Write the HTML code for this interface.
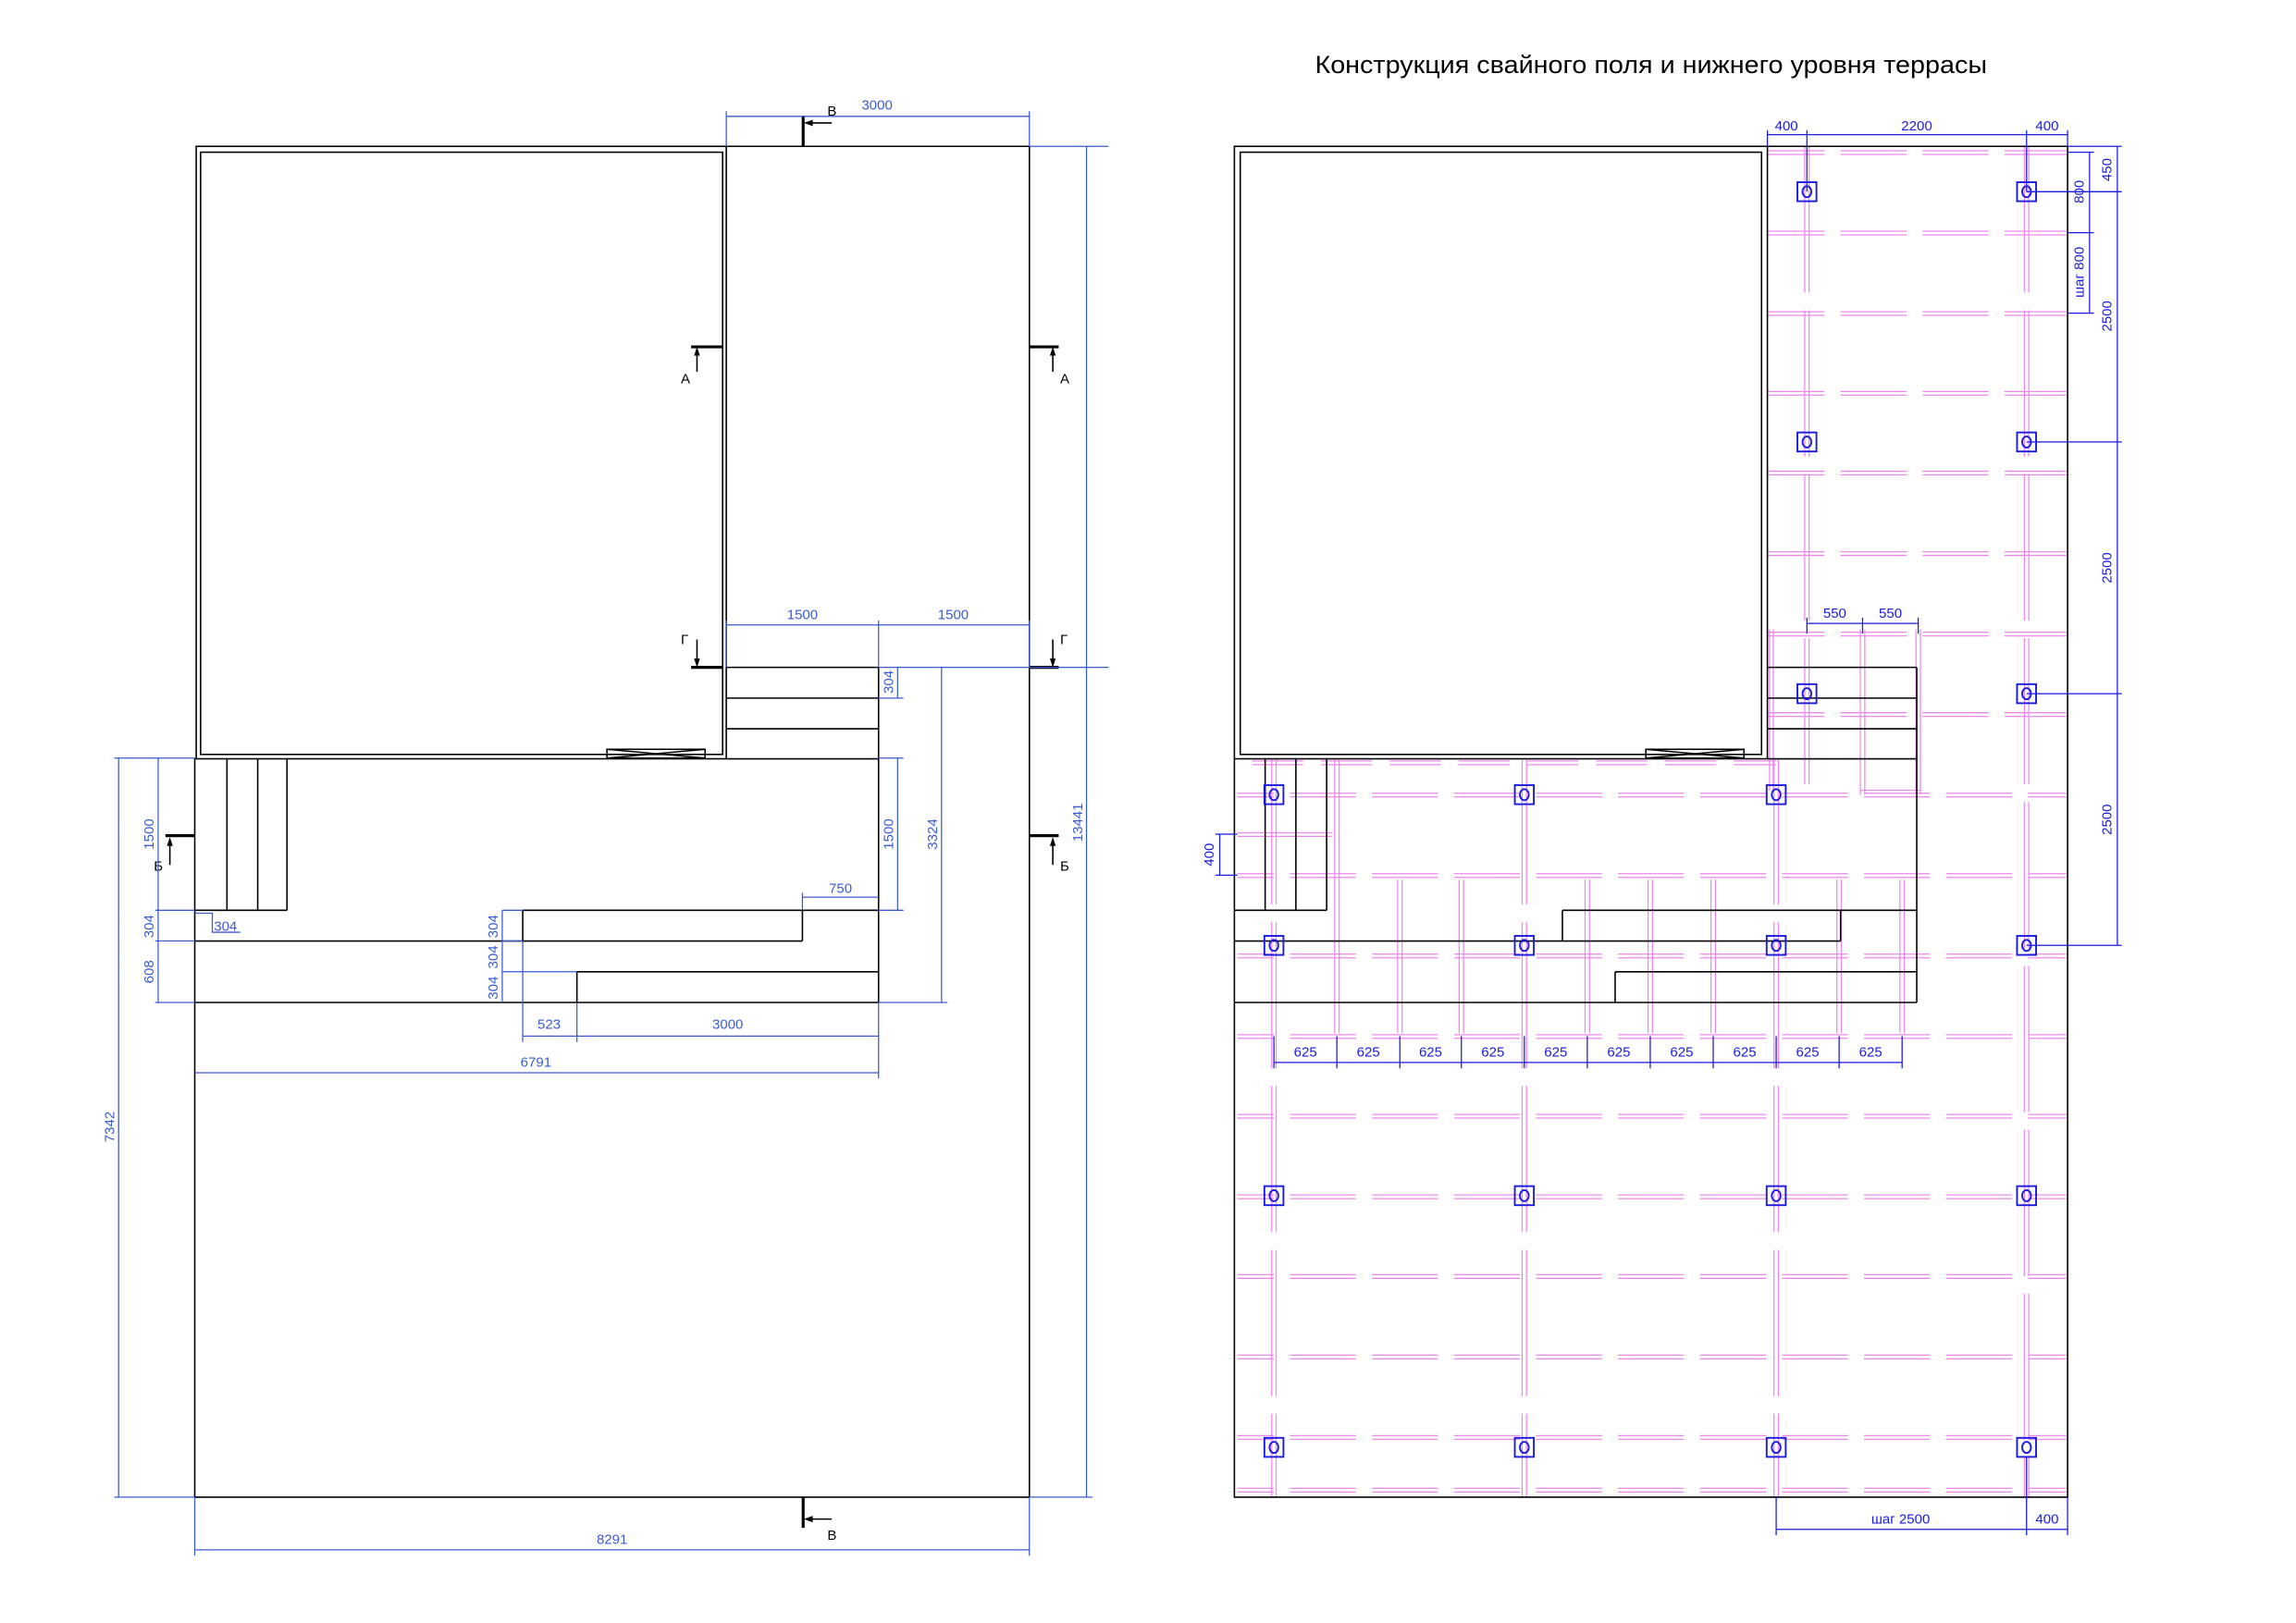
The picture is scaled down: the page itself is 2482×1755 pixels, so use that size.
<!DOCTYPE html>
<html><head><meta charset="utf-8"><style>
html,body{margin:0;padding:0;background:#fff}
svg{display:block}
text{font-family:"Liberation Sans Narrow","Liberation Sans",sans-serif}
.k{stroke:#000;stroke-width:1;fill:none}
.kt{stroke:#000;stroke-width:2;fill:none}
.d{stroke:#3a5bd0;stroke-width:0.8;fill:none}
.dt{fill:#3a5bd0;font-size:9.5px}
.b{stroke:#1a1ae0;stroke-width:0.8;fill:none}
.bt{fill:#1a1ae0;font-size:9.5px}
.p{stroke:#ee88ee;stroke-width:0.8;fill:none}
.pd{stroke:#ee88ee;stroke-width:0.8;fill:none;stroke-dasharray:45 11}
.pv{stroke:#ee88ee;stroke-width:0.8;fill:none;stroke-dasharray:100 12}
.pile{stroke:#1a1ae0;stroke-width:1.2;fill:none}
</style></head><body>
<svg width="2482" height="1755" viewBox="0 0 1568 1109" preserveAspectRatio="none" xmlns="http://www.w3.org/2000/svg">
<rect width="1568" height="1109" fill="#fff"/>
<!-- ================= LEFT DRAWING ================= -->
<g>
<rect class="k" x="134" y="100" width="362" height="418.5"/>
<rect class="k" x="137" y="104" width="356.5" height="411.5"/>
<line class="k" x1="496" y1="100" x2="703" y2="100"/>
<line class="k" x1="703" y1="100" x2="703" y2="1023"/>
<line class="k" x1="133" y1="518" x2="133" y2="1023"/>
<line class="k" x1="133" y1="1023" x2="703" y2="1023"/>
<line class="k" x1="496" y1="518.5" x2="600" y2="518.5"/>
<rect class="k" x="414.5" y="512" width="67" height="6" stroke-width="0.7"/>
<path class="k" stroke-width="0.7" d="M414.5 512 L481.5 518 M414.5 518 L481.5 512"/>
<path class="k" d="M496 456 H600 M496 477 H600 M496 498 H600 M600 456 V685"/>
<path class="k" d="M155 518 V622 M176 518 V622 M196 518 V622 M133 622 H196"/>
<path class="k" d="M357 622 H600 M357 622 V643 M548 622 V643 M133 643 H548 M394 664 H600 M394 664 V685 M133 685 H600"/>
<path class="kt" d="M548.5 79 V100 M548.5 1023 V1044"/>
<path class="k" d="M568 84 H552 M568 1038 H552"/>
<path fill="#000" d="M549 84 l6 -2.2 v4.4z M549 1038 l6 -2.2 v4.4z"/>
<text x="565" y="79" font-size="9.5">В</text>
<text x="565" y="1052" font-size="9.5">В</text>
<path class="kt" d="M472 237 H494 M703 237 H723 M472 456 H494 M703 456 H723 M113 571 H133 M703 571 H723"/>
<path class="k" d="M476 254 V240 M719 254 V240 M476 437 V452 M719 437 V452 M116 591 V575 M719 591 V575"/>
<path fill="#000" d="M476 237 l-2 6 h4z M719 237 l-2 6 h4z M476 456 l-2 -6 h4z M719 456 l-2 -6 h4z M116 572 l-2 6 h4z M719 572 l-2 6 h4z"/>
<text x="465" y="262" font-size="9.5">А</text><text x="724" y="262" font-size="9.5">А</text>
<text x="465" y="440" font-size="9.5">Г</text><text x="724" y="440" font-size="9.5">Г</text>
<text x="105" y="595" font-size="9.5">Б</text><text x="724" y="595" font-size="9.5">Б</text>
<path class="d" d="M496 79.5 H703 M496 76 V100 M703 76 V100"/>
<text class="dt" x="599" y="75" text-anchor="middle">3000</text>
<path class="d" d="M496 427 H703 M600 424 V456 M496 424 V456 M703 424 V456"/>
<text class="dt" x="548" y="423" text-anchor="middle">1500</text>
<text class="dt" x="651" y="423" text-anchor="middle">1500</text>
<path class="d" d="M600 456 H757 M613 456 V477 M600 477 H617 M600 518 H617 M613 518 V622 M600 622 H617 M643 456 V685 M600 685 H647"/>
<text class="dt" transform="translate(610,466) rotate(-90)" text-anchor="middle">304</text>
<text class="dt" transform="translate(610,570) rotate(-90)" text-anchor="middle">1500</text>
<text class="dt" transform="translate(640,570) rotate(-90)" text-anchor="middle">3324</text>
<path class="d" d="M703 100 H757 M742 100 V1023 M703 1023 H746"/>
<text class="dt" transform="translate(739,562) rotate(-90)" text-anchor="middle">13441</text>
<path class="d" d="M78 518 H133 M81 518 V1023 M78 1023 H133"/>
<text class="dt" transform="translate(78,770) rotate(-90)" text-anchor="middle">7342</text>
<path class="d" d="M108 518 V685 M106 622 H133 M106 643 H133 M106 685 H133"/>
<text class="dt" transform="translate(105,570) rotate(-90)" text-anchor="middle">1500</text>
<text class="dt" transform="translate(105,633) rotate(-90)" text-anchor="middle">304</text>
<text class="dt" transform="translate(105,664) rotate(-90)" text-anchor="middle">608</text>
<path class="d" d="M133 624 H145 V637 H164"/>
<text class="dt" x="154" y="636" text-anchor="middle">304</text>
<path class="d" d="M343 622 V685 M343 622 H357 M343 643 H357 M343 664 H394"/>
<text class="dt" transform="translate(340,633) rotate(-90)" text-anchor="middle">304</text>
<text class="dt" transform="translate(340,654) rotate(-90)" text-anchor="middle">304</text>
<text class="dt" transform="translate(340,675) rotate(-90)" text-anchor="middle">304</text>
<path class="d" d="M548 613 H600 M548 610 V622"/>
<text class="dt" x="574" y="610" text-anchor="middle">750</text>
<path class="d" d="M357 708 H600 M357 643 V712 M394 685 V712 M600 685 V737"/>
<text class="dt" x="375" y="703" text-anchor="middle">523</text>
<text class="dt" x="497" y="703" text-anchor="middle">3000</text>
<path class="d" d="M133 733 H600"/>
<text class="dt" x="366" y="729" text-anchor="middle">6791</text>
<path class="d" d="M133 1023 V1063 M703 1023 V1063 M133 1059 H703"/>
<text class="dt" x="418" y="1055" text-anchor="middle">8291</text>
</g>

<!-- ================= RIGHT DRAWING ================= -->
<text x="898" y="50" font-size="17" textLength="459" lengthAdjust="spacingAndGlyphs" fill="#000">Конструкция свайного поля и нижнего уровня террасы</text>
<g>
<g class="p">
<path class="pd" style="stroke-dashoffset:6" d="M1207 103 H1411 M1207 105.5 H1411 M1207 158 H1411 M1207 160.5 H1411 M1207 213 H1411 M1207 215.5 H1411 M1207 267.5 H1411 M1207 270 H1411 M1207 322 H1411 M1207 324.5 H1411 M1207 377 H1411 M1207 379.5 H1411 M1207 432 H1411 M1207 434.5 H1411 M1207 487 H1411 M1207 489.5 H1411"/>
<path class="pd" style="stroke-dasharray:35 12;stroke-dashoffset:-10" d="M845 520 H1213 M845 522.5 H1213"/>
<path class="pd" style="stroke-dashoffset:20" d="M845 542 H1411 M845 544.5 H1411 M845 597 H1411 M845 599.5 H1411 M845 652 H1411 M845 654.5 H1411 M845 707 H1411 M845 709.5 H1411 M845 761.5 H1411 M845 764 H1411 M845 816.5 H1411 M845 819 H1411 M845 871 H1411 M845 873.5 H1411 M845 926 H1411 M845 928.5 H1411 M845 981 H1411 M845 983.5 H1411 M845 1017 H1411 M845 1019.5 H1411"/>
<path d="M845 569 H910 M845 571.5 H910"/>
<path class="pv" d="M868.5 518 V1023 M871.5 518 V1023 M1039.5 518 V1023 M1042.5 518 V1023 M1211.5 518 V1023 M1214.5 518 V1023 M1382.5 100 V1023 M1385.5 100 V1023 M1232.5 100 V543 M1235.5 100 V543"/>
<path d="M911.5 518 V706 M914.5 518 V706"/>
<path d="M954.5 601 V706 M957.5 601 V706 M996.5 601 V706 M999.5 601 V706 M1082.5 601 V706 M1085.5 601 V706 M1125.5 601 V706 M1128.5 601 V706 M1168.5 601 V706 M1171.5 601 V706 M1254.5 601 V706 M1257.5 601 V706 M1297.5 601 V706 M1300.5 601 V706"/>
<path d="M1208.5 430 V540 M1211 430 V540 M1270.5 430 V543 M1273.5 430 V543 M1308.5 430 V543 M1311.5 430 V543 M1270.5 540 H1311.5"/>
</g>
<rect class="k" x="843" y="100" width="364" height="418.5"/>
<rect class="k" x="847" y="104" width="356" height="411.5"/>
<path class="k" d="M1207 100 H1412 V1023 H843 V518"/>
<rect class="k" x="1124" y="512" width="67" height="6" stroke-width="0.7"/>
<path class="k" stroke-width="0.7" d="M1124 512 L1191 518 M1124 518 L1191 512"/>
<path class="k" d="M1207 456 H1309 M1207 477 H1309 M1207 498 H1309 M1207 518.5 H1309 M1309 456 V685"/>
<path class="k" d="M864 518 V622 M885 518 V622 M906 518 V622 M843 622 H906"/>
<path class="k" d="M1067 622 H1309 M1067 622 V643 M1257 622 V643 M843 643 H1257 M1103 664 H1309 M1103 664 V685 M843 685 H1309"/>
<g class="pile">
<rect x="1227.5" y="124.5" width="13" height="13"/><ellipse cx="1234" cy="131" rx="3" ry="3.8"/>
<rect x="1377.5" y="124.5" width="13" height="13"/><ellipse cx="1384" cy="131" rx="3" ry="3.8"/>
<rect x="1227.5" y="295.5" width="13" height="13"/><ellipse cx="1234" cy="302" rx="3" ry="3.8"/>
<rect x="1377.5" y="295.5" width="13" height="13"/><ellipse cx="1384" cy="302" rx="3" ry="3.8"/>
<rect x="1227.5" y="467.5" width="13" height="13"/><ellipse cx="1234" cy="474" rx="3" ry="3.8"/>
<rect x="1377.5" y="467.5" width="13" height="13"/><ellipse cx="1384" cy="474" rx="3" ry="3.8"/>
<rect x="863.5" y="536.5" width="13" height="13"/><ellipse cx="870" cy="543" rx="3" ry="3.8"/>
<rect x="1034.5" y="536.5" width="13" height="13"/><ellipse cx="1041" cy="543" rx="3" ry="3.8"/>
<rect x="1206.5" y="536.5" width="13" height="13"/><ellipse cx="1213" cy="543" rx="3" ry="3.8"/>
<rect x="863.5" y="639.5" width="13" height="13"/><ellipse cx="870" cy="646" rx="3" ry="3.8"/>
<rect x="1034.5" y="639.5" width="13" height="13"/><ellipse cx="1041" cy="646" rx="3" ry="3.8"/>
<rect x="1206.5" y="639.5" width="13" height="13"/><ellipse cx="1213" cy="646" rx="3" ry="3.8"/>
<rect x="1377.5" y="639.5" width="13" height="13"/><ellipse cx="1384" cy="646" rx="3" ry="3.8"/>
<rect x="863.5" y="810.5" width="13" height="13"/><ellipse cx="870" cy="817" rx="3" ry="3.8"/>
<rect x="1034.5" y="810.5" width="13" height="13"/><ellipse cx="1041" cy="817" rx="3" ry="3.8"/>
<rect x="1206.5" y="810.5" width="13" height="13"/><ellipse cx="1213" cy="817" rx="3" ry="3.8"/>
<rect x="1377.5" y="810.5" width="13" height="13"/><ellipse cx="1384" cy="817" rx="3" ry="3.8"/>
<rect x="863.5" y="982.5" width="13" height="13"/><ellipse cx="870" cy="989" rx="3" ry="3.8"/>
<rect x="1034.5" y="982.5" width="13" height="13"/><ellipse cx="1041" cy="989" rx="3" ry="3.8"/>
<rect x="1206.5" y="982.5" width="13" height="13"/><ellipse cx="1213" cy="989" rx="3" ry="3.8"/>
<rect x="1377.5" y="982.5" width="13" height="13"/><ellipse cx="1384" cy="989" rx="3" ry="3.8"/>
</g>
<path class="b" d="M1207 92 H1412 M1207 89 V100 M1234 89 V131 M1384 89 V131 M1412 89 V100"/>
<text class="bt" x="1220" y="89" text-anchor="middle">400</text>
<text class="bt" x="1309" y="89" text-anchor="middle">2200</text>
<text class="bt" x="1398" y="89" text-anchor="middle">400</text>
<path class="b" d="M1412 100 H1449 M1446 100 V646 M1384 131 H1449 M1384 302 H1449 M1384 474 H1449 M1384 646 H1449"/>
<text class="bt" transform="translate(1442,116) rotate(-90)" text-anchor="middle">450</text>
<text class="bt" transform="translate(1442,216) rotate(-90)" text-anchor="middle">2500</text>
<text class="bt" transform="translate(1442,388) rotate(-90)" text-anchor="middle">2500</text>
<text class="bt" transform="translate(1442,560) rotate(-90)" text-anchor="middle">2500</text>
<path class="b" d="M1412 104 H1430 M1427 104 V214 M1412 159 H1430 M1412 214 H1430"/>
<text class="bt" transform="translate(1423,131) rotate(-90)" text-anchor="middle">800</text>
<text class="bt" transform="translate(1423,186) rotate(-90)" text-anchor="middle">шаг 800</text>
<path class="b" d="M1234 426 H1310 M1234 422 V433 M1272 422 V433 M1310 422 V433"/>
<text class="bt" x="1253" y="422" text-anchor="middle">550</text>
<text class="bt" x="1291" y="422" text-anchor="middle">550</text>
<path class="b" d="M870 726 H1299 M870 708 V730 M913 708 V730 M956 708 V730 M998 708 V730 M1041 708 V730 M1084 708 V730 M1127 708 V730 M1170 708 V730 M1213 708 V730 M1256 708 V730 M1299 708 V730"/>
<g class="bt" text-anchor="middle">
<text x="891.5" y="722">625</text><text x="934.5" y="722">625</text><text x="977" y="722">625</text><text x="1019.5" y="722">625</text><text x="1062.5" y="722">625</text><text x="1105.5" y="722">625</text><text x="1148.5" y="722">625</text><text x="1191.5" y="722">625</text><text x="1234.5" y="722">625</text><text x="1277.5" y="722">625</text>
</g>
<path class="b" d="M830 570 H845 M833 570 V598 M830 598 H845"/>
<text class="bt" transform="translate(829,584) rotate(-90)" text-anchor="middle">400</text>
<path class="b" d="M1213 1023 V1049 M1384 995 V1049 M1412 1023 V1049 M1213 1045 H1412"/>
<text class="bt" x="1298" y="1041" text-anchor="middle">шаг 2500</text>
<text class="bt" x="1398" y="1041" text-anchor="middle">400</text>
</g>
</svg>
</body></html>
